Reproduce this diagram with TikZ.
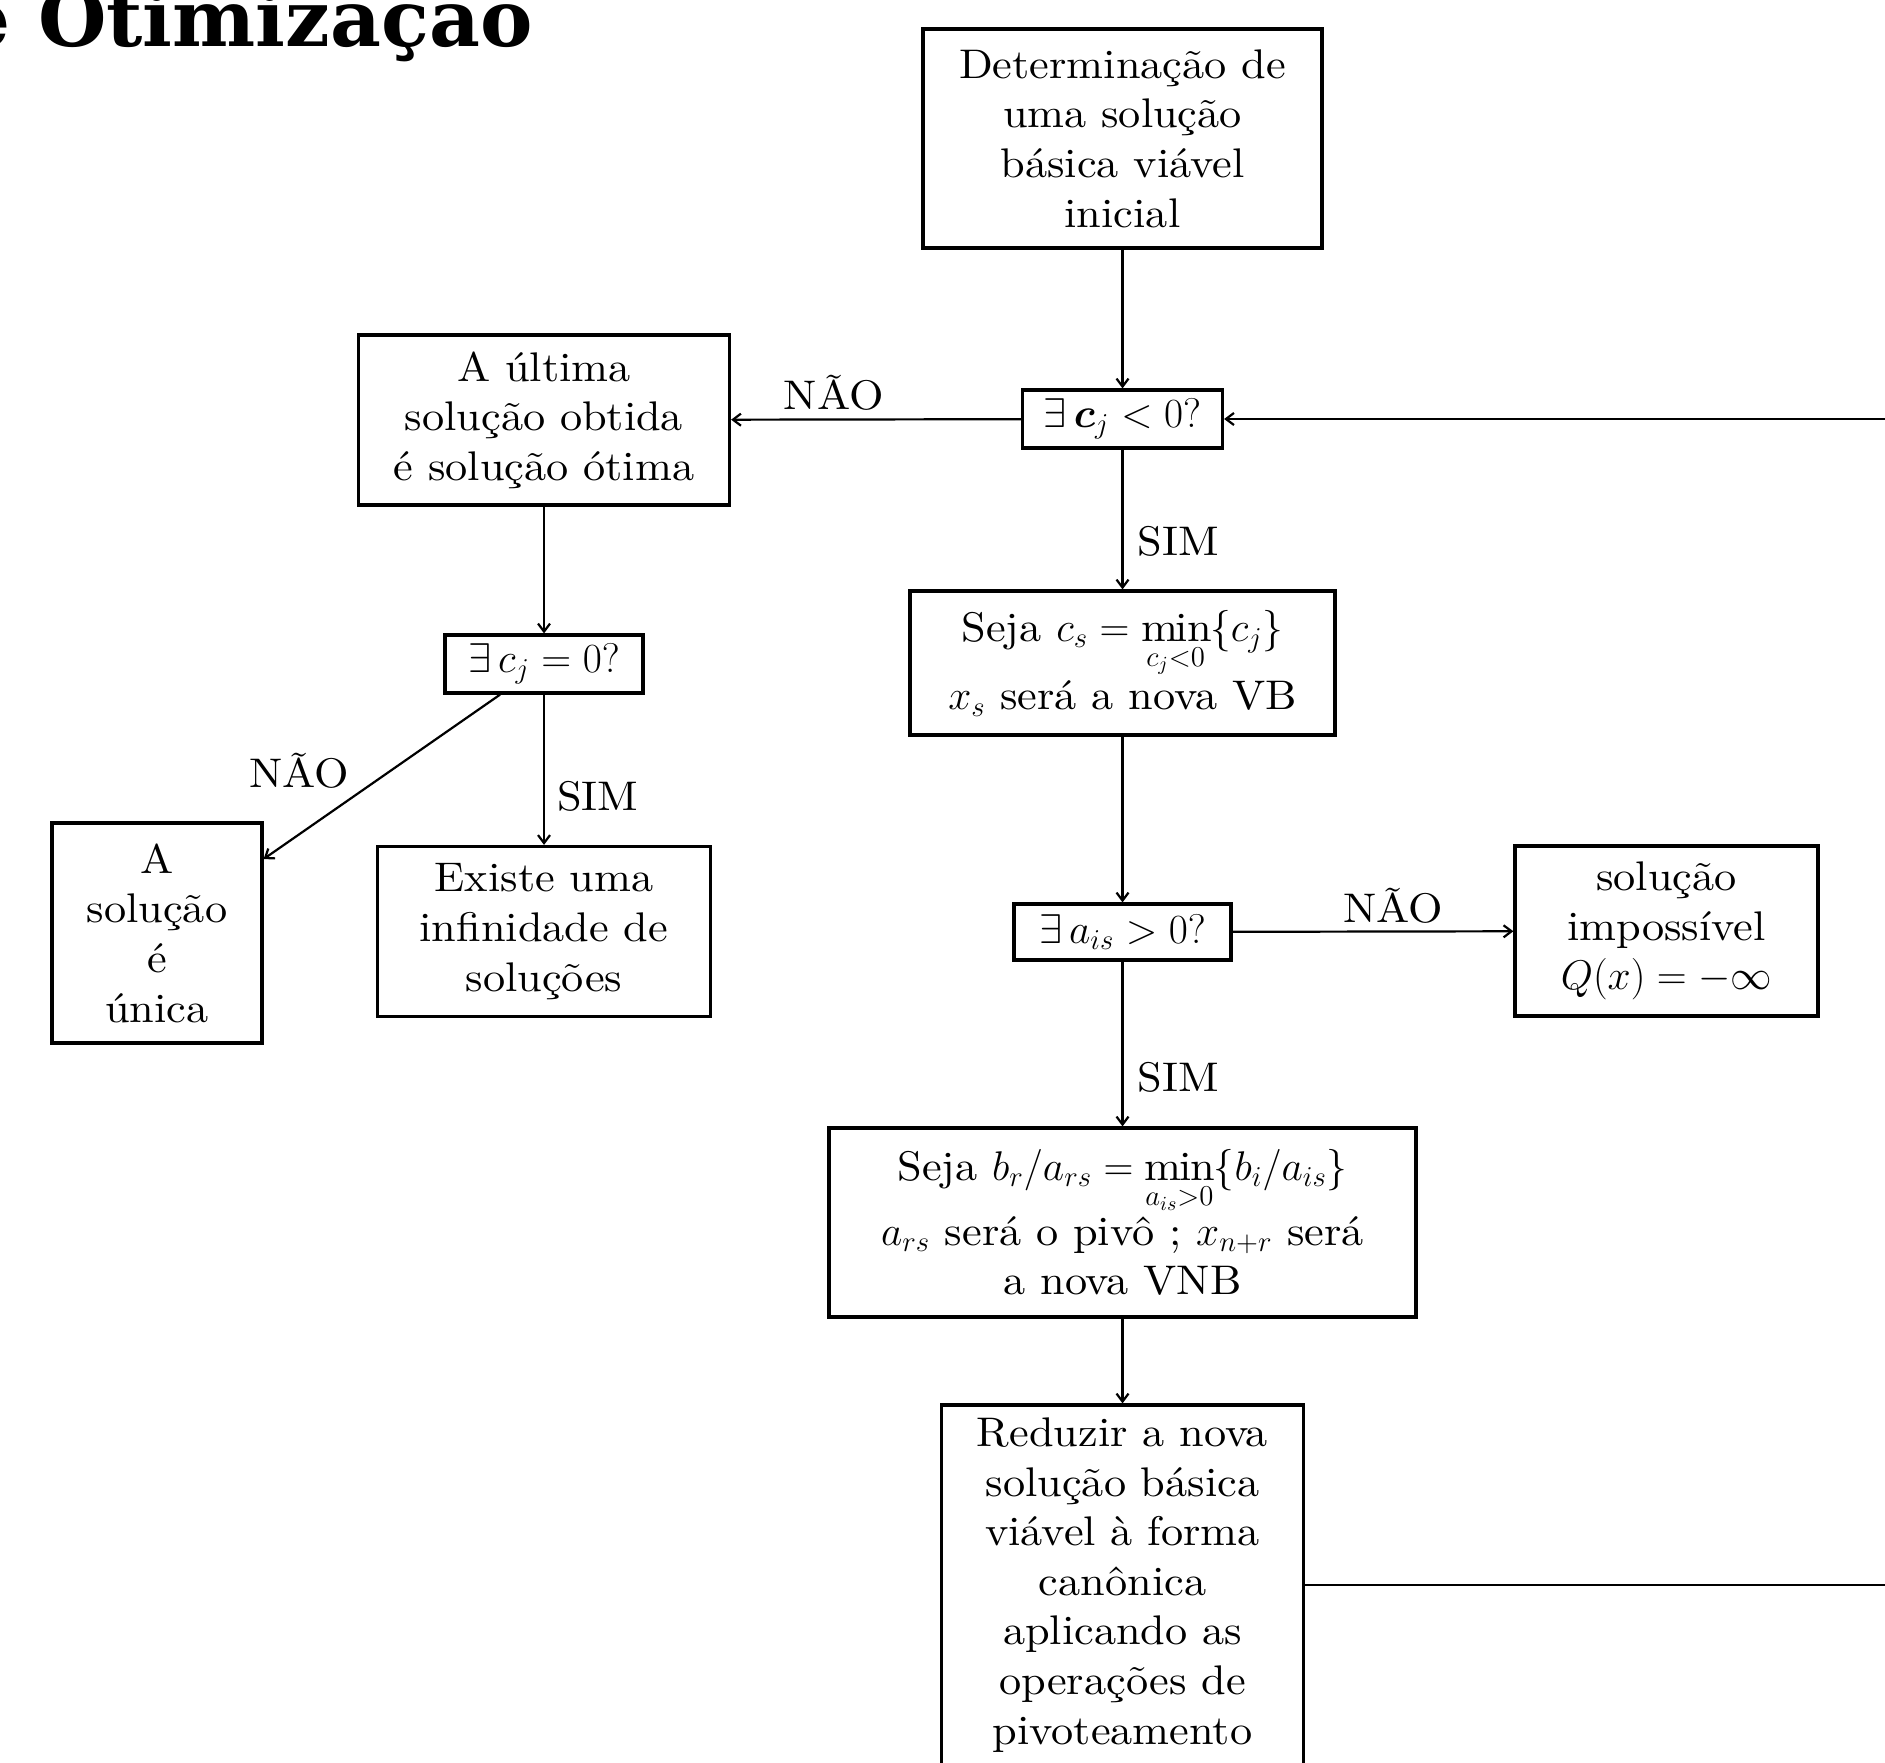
\documentclass[tikz,border=0pt]{standalone}
\usepackage{fontspec}
\setmainfont{lmroman10-regular.otf}[FakeStretch=1.07, BoldFont=lmroman10-bold.otf, ItalicFont=lmroman10-italic.otf]
\newfontfamily\titlefont{DejaVu Serif}
\usepackage{amsmath}
\usepackage{bm}
\usetikzlibrary{arrows.meta}
\begin{document}
\begin{tikzpicture}[x=0.5pt,y=-0.5pt,
  box/.style={draw, line width=1.6pt, align=center, inner sep=0pt, font=\fontsize{20.7pt}{24.8pt}\selectfont},
  lbl/.style={inner sep=0pt, font=\fontsize{20.7pt}{24.8pt}\selectfont},
  conn/.style={line width=1.1pt},
  arr/.style={conn, -{Straight Barb[length=4pt,width=6pt]}},
]
\useasboundingbox (0,0) rectangle (1885,1762);
\clip (0,0) rectangle (1885,1762);

\node[anchor=base east, inner sep=0pt, font=\titlefont\bfseries\fontsize{39.3pt}{41pt}\selectfont] (title) at (533,46) {de Otimização};

\node[box, minimum width=199.5pt, minimum height=109.5pt] (init) at (1122.5,138.5) {Determinação de\\uma solução\\básica viável\\inicial};
\node[box, minimum width=100pt, minimum height=29pt] (d1) at (1122.5,419) {$\exists\,\bm{c}_j<0?$};
\node[box, minimum width=185.5pt, minimum height=85pt] (opt) at (544,420) {A última\\solução obtida\\é solução ótima};
\node[box, minimum width=212.5pt, minimum height=72pt] (cs) at (1122.5,663) {Seja $c_s=\min\limits_{c_j<0}\{c_j\}$\\$x_s$ será a nova VB};
\node[box, minimum width=99pt, minimum height=29pt] (d2) at (544,664) {$\exists\,c_j=0?$};
\node[box, minimum width=105pt, minimum height=110pt] (uni) at (157,933) {A\\solução\\é\\única};
\node[box, minimum width=166.5pt, minimum height=85pt] (inf) at (544,931.5) {Existe uma\\infinidade de\\soluções};
\node[box, minimum width=108.5pt, minimum height=28pt] (d3) at (1122.5,932) {$\exists\,a_{is}>0?$};
\node[box, minimum width=151.5pt, minimum height=85pt] (imp) at (1666.5,931) {solução\\impossível\\$Q(x)=-\infty$};
\node[box, minimum width=293.5pt, minimum height=94.5pt] (br) at (1122.5,1222.5) {Seja $b_r/a_{rs}=\min\limits_{a_{is}>0}\{b_i/a_{is}\}$\\$a_{rs}$ será o pivô ; $x_{n+r}$ será\\a nova VNB};
\node[box, minimum width=181pt, minimum height=180pt] (red) at (1122.5,1585) {Reduzir a nova\\solução básica\\viável à forma\\canônica\\aplicando as\\operações de\\pivoteamento};

\coordinate (loop) at (1960,1000);

\draw[arr] (init) -- (d1);
\draw[arr] (d1) -- node[lbl, pos=0.646, anchor=base, yshift=5pt] (l1) {NÃO} (opt);
\draw[arr] (d1) -- node[lbl, pos=0.657, anchor=west, xshift=7pt] (l2) {SIM} (cs);
\draw[arr] (opt) -- (d2);
\draw[arr] (d2) -- node[lbl, pos=0.563, anchor=base east, xshift=-8.5pt] (l3) {NÃO} (uni);
\draw[arr] (d2) -- node[lbl, pos=0.68, anchor=west, xshift=6pt] (l4) {SIM} (inf);
\draw[arr] (cs) -- (d3);
\draw[arr] (d3) -- node[lbl, pos=0.571, anchor=base, yshift=4.5pt] (l5) {NÃO} (imp);
\draw[arr] (d3) -- node[lbl, pos=0.70, anchor=west, xshift=7pt] (l6) {SIM} (br);
\draw[arr] (br) -- (red);
\draw[arr] (red.east) -| (loop) |- (d1.east);
\end{tikzpicture}
\end{document}
